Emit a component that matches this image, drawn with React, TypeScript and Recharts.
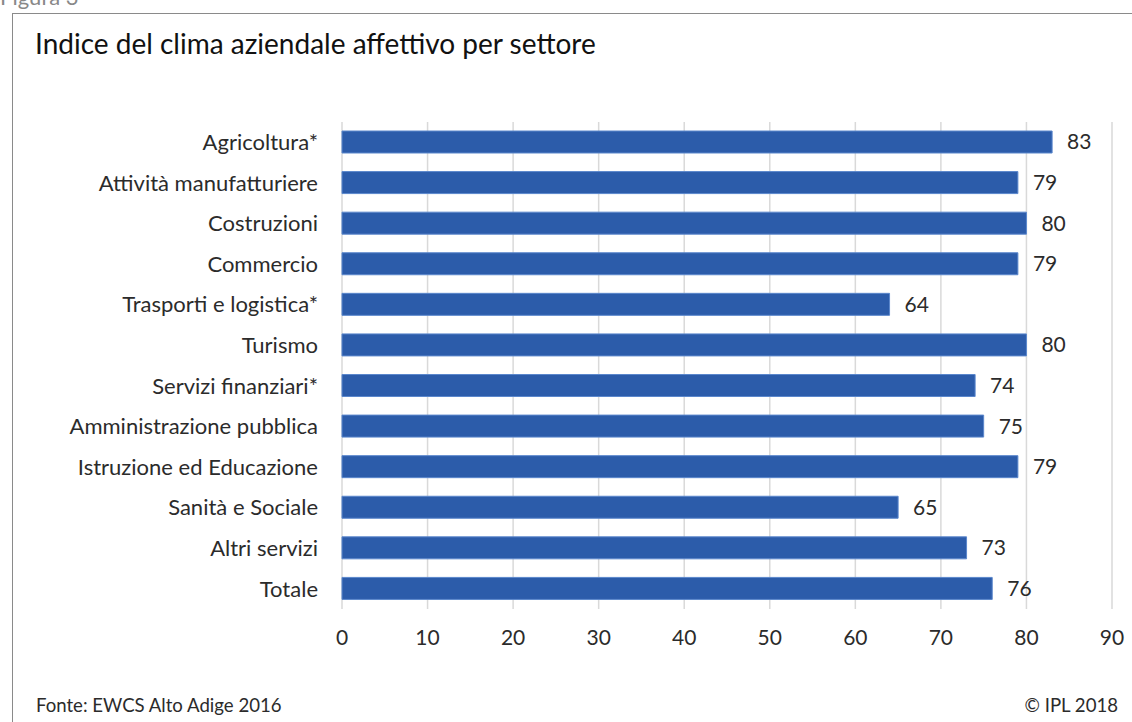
import { BarChart, Bar, XAxis, YAxis, CartesianGrid, LabelList } from 'recharts';

const settori = [
  'Agricoltura*',
  'Attività manufatturiere',
  'Costruzioni',
  'Commercio',
  'Trasporti e logistica*',
  'Turismo',
  'Servizi finanziari*',
  'Amministrazione pubblica',
  'Istruzione ed Educazione',
  'Sanità e Sociale',
  'Altri servizi',
  'Totale',
];

const indice = [83, 79, 80, 79, 64, 80, 74, 75, 79, 65, 73, 76];

const xTicks = [0, 10, 20, 30, 40, 50, 60, 70, 80, 90];

const data = settori.map((name, i) => ({ name, value: indice[i] }));

const FONT = 'Lato, "Noto Sans", sans-serif';
const TEXT = '#2b2b2b';

export default function App() {
  return (
    <div
      style={{
        position: 'absolute',
        left: 0,
        top: 0,
        width: 1132,
        height: 722,
        background: '#fff',
        overflow: 'hidden',
        fontFamily: FONT,
      }}
    >
      <div style={{ position: 'absolute', left: 0, top: -17, fontSize: 22, color: '#888' }}>Figura 3</div>
      <div
        style={{
          position: 'absolute',
          left: 12,
          top: 13,
          width: 1140,
          height: 760,
          border: '1.5px solid #8a8a8a',
          boxSizing: 'border-box',
        }}
      />
      <div style={{ position: 'absolute', left: 35, top: 26, fontSize: 28, color: '#111' }}>
        Indice del clima aziendale affettivo per settore
      </div>
      <div style={{ position: 'absolute', left: 36, top: 694, fontSize: 18.6, color: TEXT }}>
        Fonte: EWCS Alto Adige 2016
      </div>
      <div style={{ position: 'absolute', right: 14, top: 694, fontSize: 18.6, color: TEXT }}>© IPL 2018</div>
      <div style={{ position: 'absolute', left: 0, top: 0 }}>
        <BarChart
          width={1132}
          height={722}
          data={data}
          layout="vertical"
          margin={{ top: 122, right: 20, bottom: 83, left: 0 }}
          barSize={22}
        >
          <CartesianGrid horizontal={false} stroke="#d9d9d9" strokeWidth={1.5} />
          <XAxis
            type="number"
            domain={[0, 90]}
            ticks={xTicks}
            interval={0}
            axisLine={false}
            tickLine={false}
            tickMargin={15}
            height={30}
            tick={{ fill: TEXT, fontSize: 21, fontFamily: FONT }}
          />
          <YAxis
            type="category"
            dataKey="name"
            width={342}
            interval={0}
            axisLine={false}
            tickLine={false}
            tickMargin={18}
            tick={{ fill: TEXT, fontSize: 22, fontFamily: FONT }}
          />
          <Bar dataKey="value" fill="#2c5caa" stroke="#5b87cc" strokeWidth={1} isAnimationActive={false}>
            <LabelList
              dataKey="value"
              position="right"
              offset={15}
              style={{ fill: TEXT, fontSize: 21, fontFamily: FONT }}
            />
          </Bar>
        </BarChart>
      </div>
    </div>
  );
}
